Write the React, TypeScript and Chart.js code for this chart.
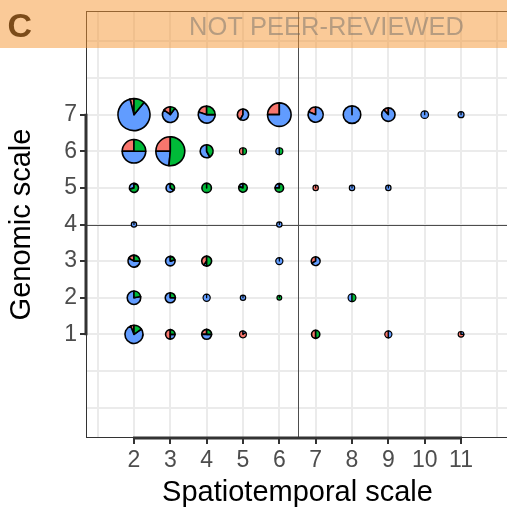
import React, { useEffect, useRef } from 'react';
import { Chart, registerables } from 'chart.js';

Chart.register(...registerables);

const FONT = "'Liberation Sans', Arial, Helvetica, sans-serif";

// ---- data: one entry per pie ----
const spatiotemporal = [2, 3, 4, 5, 6, 7, 8, 9, 10, 11, 2, 3, 4, 5, 6, 2, 3, 4, 5, 6, 7, 8, 9, 2, 6, 2, 3, 4, 6, 7, 2, 3, 4, 5, 6, 8, 2, 3, 4, 5, 7, 9, 11];
const genomic = [7, 7, 7, 7, 7, 7, 7, 7, 7, 7, 6, 6, 6, 6, 6, 5, 5, 5, 5, 5, 5, 5, 5, 4, 4, 3, 3, 3, 3, 3, 2, 2, 2, 2, 2, 2, 1, 1, 1, 1, 1, 1, 1];
const studyCount = [25, 6, 7, 3.1, 13.5, 5.6, 7.5, 4.4, 1.4, 0.9, 13.5, 20.4, 4.1, 1.2, 1.2, 2.0, 1.75, 2.2, 1.75, 1.75, 0.7, 0.7, 0.7, 0.7, 0.7, 3.5, 2.2, 2.4, 1.25, 1.9, 4.45, 2.5, 1.25, 0.7, 0.55, 1.5, 8.0, 2.2, 2.4, 1.15, 1.65, 1.25, 0.8];
const shareRed = [0.04, 0.15, 0.2, 0.42, 0.25, 0.19, 0, 0.12, 0, 0, 0.25, 0.25, 0, 0.5, 0, 0, 0, 0, 0, 0, 1, 0, 0, 0, 0, 0.17, 0, 0.4, 0, 0.33, 0, 0, 0, 0, 0, 0, 0.06, 0.5, 0.25, 0.85, 0.5, 0.5, 0.75];
const shareGreen = [0.11, 0.1, 0.25, 0, 0, 0, 0, 0, 0, 0, 0.25, 0.515, 0.42, 0.5, 0.5, 0.7, 0.35, 1, 0.8, 0.75, 0, 0, 0, 0, 0, 0.25, 0.2, 0.5, 0, 0, 0.22, 0.25, 0, 0, 1, 0.5, 0.15, 0.25, 0.25, 0, 0.5, 0, 0];
const shareBlue = [0.85, 0.75, 0.55, 0.58, 0.75, 0.81, 1, 0.88, 1, 1, 0.5, 0.235, 0.58, 0, 0.5, 0.3, 0.65, 0, 0.2, 0.25, 0, 1, 1, 1, 1, 0.58, 0.8, 0.1, 1, 0.67, 0.78, 0.75, 1, 1, 0, 0.5, 0.79, 0.25, 0.5, 0.15, 0, 0.5, 0.25];

const xGridValues = [1, 2, 3, 4, 5, 6, 7, 8, 9, 10, 11, 12];
const xLabelled = [2, 3, 4, 5, 6, 7, 8, 9, 10, 11];
const yGridValues = [-1, 0, 1, 2, 3, 4, 5, 6, 7, 8, 9];
const yLabelled = [1, 2, 3, 4, 5, 6, 7];
const xSplit = 6.5;
const ySplit = 4;
const xRange = [0.68, 12.32];
const yRange = [-1.83, 9.83];

const RED = '#F8766D';
const GREEN = '#00BA38';
const BLUE = '#619CFF';

const pieRadius = (n: number) => 3.2 * Math.sqrt(n);

const piePlugin = {
  id: 'pies',
  beforeDatasetsDraw(chart: any) {
    const { ctx, chartArea } = chart;
    const { left, right, top, bottom } = chartArea;
    const xs = chart.scales.x;
    const ys = chart.scales.y;
    ctx.save();
    ctx.strokeStyle = '#4d4d4d';
    ctx.lineWidth = 1;
    const px = Math.round(xs.getPixelForValue(xSplit)) + 0.5;
    const py = Math.round(ys.getPixelForValue(ySplit)) + 0.5;
    ctx.beginPath();
    ctx.moveTo(px, top);
    ctx.lineTo(px, bottom);
    ctx.moveTo(left, py);
    ctx.lineTo(right, py);
    ctx.stroke();
    ctx.strokeStyle = '#333333';
    ctx.strokeRect(left + 0.5, top + 0.5, right - left - 1, bottom - top - 1);
    ctx.lineWidth = 3;
    ctx.beginPath();
    ctx.moveTo(xs.getPixelForValue(xLabelled[0]) - 1, bottom);
    ctx.lineTo(xs.getPixelForValue(xLabelled[xLabelled.length - 1]) + 1, bottom);
    ctx.moveTo(left, ys.getPixelForValue(yLabelled[0]) + 1);
    ctx.lineTo(left, ys.getPixelForValue(yLabelled[yLabelled.length - 1]) - 1);
    ctx.stroke();
    ctx.restore();
  },
  afterDatasetsDraw(chart: any) {
    const ctx = chart.ctx;
    const meta = chart.getDatasetMeta(0);
    ctx.save();
    ctx.strokeStyle = '#000';
    ctx.lineJoin = 'round';
    meta.data.forEach((el: any, i: number) => {
      const { x, y } = el.getProps(['x', 'y'], true);
      const r = pieRadius(studyCount[i]);
      ctx.lineWidth = r < 4 ? 1.2 : 1.6;
      const parts: [number, string][] = [
        [shareRed[i], RED],
        [shareBlue[i], BLUE],
        [shareGreen[i], GREEN],
      ];
      const sum = parts.reduce((s, p) => s + p[0], 0);
      let a = -Math.PI / 2;
      parts.forEach(([s, c]) => {
        if (s <= 0) return;
        const a1 = a - (s / sum) * Math.PI * 2;
        ctx.beginPath();
        ctx.moveTo(x, y);
        ctx.arc(x, y, r, a, a1, true);
        ctx.closePath();
        ctx.fillStyle = c;
        ctx.fill();
        ctx.stroke();
        a = a1;
      });
    });
    ctx.restore();
  },
  afterDraw(chart: any) {
    const ctx = chart.ctx;
    const W = chart.width;
    ctx.save();
    ctx.fillStyle = '#000';
    ctx.font = `bold 34px ${FONT}`;
    ctx.textBaseline = 'alphabetic';
    ctx.textAlign = 'left';
    ctx.fillText('C', 7.5, 37);
    ctx.fillStyle = 'rgba(245,150,50,0.5)';
    ctx.fillRect(0, 0, W, 48);
    ctx.fillStyle = 'rgba(100,100,100,0.45)';
    ctx.font = `25.5px ${FONT}`;
    ctx.textAlign = 'center';
    ctx.fillText('NOT PEER-REVIEWED', 326.5, 35);
    ctx.restore();
  },
};

export default function App() {
  const ref = useRef<HTMLCanvasElement | null>(null);
  useEffect(() => {
    if (!ref.current) return;
    const data = spatiotemporal.map((x, i) => ({ x, y: genomic[i] }));
    const tickFont = { family: FONT, size: 23 };
    const titleFont = { family: FONT, size: 29 };
    const chart = new Chart(ref.current, {
      type: 'scatter',
      data: {
        datasets: [
          {
            label: 'studies',
            data,
            pointRadius: 0,
            pointHoverRadius: 0,
            pointBorderWidth: 0,
            backgroundColor: 'rgba(0,0,0,0)',
          } as any,
        ],
      },
      options: {
        responsive: false,
        animation: false,
        events: [],
        layout: { padding: { top: 11, right: 3, left: 0, bottom: 0 } },
        plugins: { legend: { display: false }, tooltip: { enabled: false } },
        scales: {
          x: {
            type: 'linear',
            min: xRange[0],
            max: xRange[1],
            afterBuildTicks: (s: any) => {
              s.ticks = xGridValues.map((v) => ({ value: v }));
            },
            afterFit: (s: any) => {
              s.height = 72;
              s.paddingLeft = 0;
              s.paddingRight = 0;
              s.paddingTop = 0;
              s.paddingBottom = 0;
            },
            ticks: {
              autoSkip: false,
              maxRotation: 0,
              padding: 3,
              color: '#4d4d4d',
              font: tickFont,
              callback: (v: any) => (xLabelled.includes(Number(v)) ? String(v) : ''),
            },
            grid: {
              color: '#ebebeb',
              lineWidth: 2,
              drawTicks: true,
              tickLength: 6,
              tickWidth: 2,
              tickColor: (c: any) => (xLabelled.includes(c.tick?.value) ? '#333333' : 'rgba(0,0,0,0)'),
            },
            border: { display: false },
            title: {
              display: true,
              text: 'Spatiotemporal scale',
              color: '#000',
              font: titleFont,
              padding: { top: 0, bottom: 0 },
            },
          },
          y: {
            type: 'linear',
            min: yRange[0],
            max: yRange[1],
            afterBuildTicks: (s: any) => {
              s.ticks = yGridValues.map((v) => ({ value: v }));
            },
            afterFit: (s: any) => {
              s.width = 86;
              s.paddingLeft = 0;
              s.paddingRight = 0;
              s.paddingTop = 0;
              s.paddingBottom = 0;
            },
            ticks: {
              autoSkip: false,
              padding: 3,
              color: '#4d4d4d',
              font: tickFont,
              callback: (v: any) => (yLabelled.includes(Number(v)) ? String(v) : ''),
            },
            grid: {
              color: '#ebebeb',
              lineWidth: 2,
              drawTicks: true,
              tickLength: 6,
              tickWidth: 2,
              tickColor: (c: any) => (yLabelled.includes(c.tick?.value) ? '#333333' : 'rgba(0,0,0,0)'),
            },
            border: { display: false },
            title: {
              display: true,
              text: 'Genomic scale',
              color: '#000',
              font: titleFont,
              padding: { top: 5, bottom: 0 },
            },
          },
        },
      },
      plugins: [piePlugin],
    } as any);
    return () => chart.destroy();
  }, []);
  return (
    <div style={{ position: 'absolute', left: 0, top: 0, width: 507, height: 510, overflow: 'hidden', background: '#fff' }}>
      <canvas ref={ref} width={512} height={510} style={{ display: 'block' }} />
    </div>
  );
}
